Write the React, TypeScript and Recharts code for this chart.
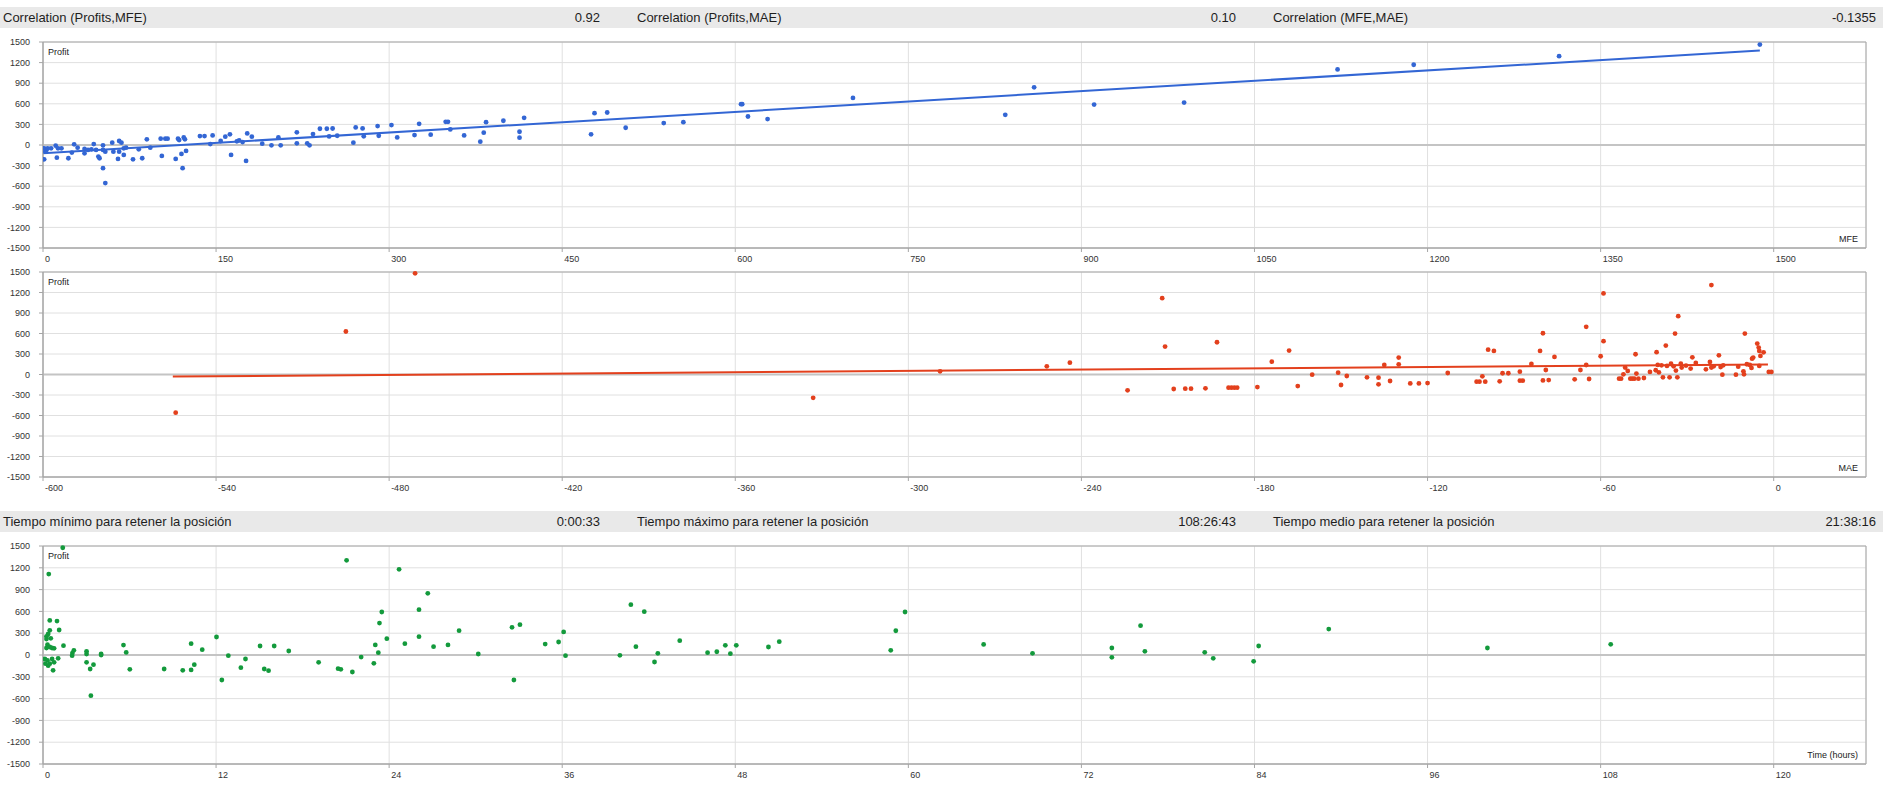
import React from "react";
import {
  ScatterChart,
  Scatter,
  XAxis,
  YAxis,
  CartesianGrid,
  ReferenceLine,
  ReferenceArea,
} from "recharts";

// header strips
const correlationLabels = [
  "Correlation (Profits,MFE)",
  "Correlation (Profits,MAE)",
  "Correlation (MFE,MAE)",
];
const correlationValues = ["0.92", "0.10", "-0.1355"];
const holdLabels = [
  "Tiempo mínimo para retener la posición",
  "Tiempo máximo para retener la posición",
  "Tiempo medio para retener la posición",
];
const holdValues = ["0:00:33", "108:26:43", "21:38:16"];

// axes
const profitTicks = [-1500, -1200, -900, -600, -300, 0, 300, 600, 900, 1200, 1500];
const mfeTicks = [0, 150, 300, 450, 600, 750, 900, 1050, 1200, 1350, 1500];
const maeTicks = [-600, -540, -480, -420, -360, -300, -240, -180, -120, -60, 0];
const timeTicks = [0, 12, 24, 36, 48, 60, 72, 84, 96, 108, 120];

// Profit vs MFE
const mfeValues = [
  1, 2, 3, 1, 4, 7, 11, 12, 13, 16, 22, 25, 27, 30, 36, 36, 39, 42, 44, 46,
  48, 49, 52, 52, 52, 54, 54, 60, 61, 65, 66, 66, 68, 70, 70, 72, 78, 83, 86, 90,
  93, 102, 103, 106, 108, 115, 117, 118, 120, 121, 122, 123, 124, 136, 140, 145, 147, 154, 158, 162,
  163, 168, 170, 173, 176, 177, 181, 190, 198, 204, 206, 220, 220, 229, 231, 234, 240, 246, 248, 251,
  255, 269, 271, 277, 278, 290, 291, 302, 307, 322, 326, 336, 349, 351, 353, 365, 379, 382, 384, 399,
  413, 413, 417, 475, 478, 489, 505, 538, 555, 605, 606, 611, 628, 702, 834, 859, 911, 989, 1122, 1188,
  1314, 1488,
];
const mfeProfits = [
  -48, -97, -72, -208, -48, -48, -10, -184, -48, -48, -193, -111, 10, -39, -58, -121, -72, -63, 14, -72,
  -169, -193, -5, -72, -338, -555, -97, 34, -97, -203, -97, 58, 34, -145, -48, -39, -208, -63, -193, 82,
  -39, 92, -159, 92, 92, -203, 92, 72, -130, -338, 111, 82, -87, 130, 130, 14, 140, 58, 121, 155,
  -145, 53, 68, 43, -232, 169, 121, 19, -5, 111, -5, 184, 24, 24, -5, 159, 237, 237, 125, 240,
  135, 34, 256, 241, 126, 275, 135, 290, 111, 145, 309, 150, 338, 338, 227, 140, 48, 179, 333, 353,
  193, 106, 396, 155, 464, 473, 251, 319, 333, 594, 594, 415, 377, 686, 440, 840, 589, 618, 1101, 1169,
  1294, 1463,
];
const mfeTrendX = [0, 1488];
const mfeTrendY = [-120, 1375];

// Profit vs MAE
const maeValues = [
  -554, -495, -471, -333, -289, -252, -244,
  -224, -212, -211, -208, -204, -202, -197, -193, -189, -188, -187, -186, -179, -174,
  -168, -165, -160, -151, -150, -148, -141, -137, -137, -135, -133, -130, -130, -126, -123, -120,
  -113, -103, -102, -101, -100, -99, -97, -95, -94, -92, -88, -88, -87, -84, -81, -80,
  -80, -79, -78, -76, -69, -67, -65, -65, -64, -60, -59, -59,
  -53.6, -52.9, -52.1, -51.5, -50.6, -49.7, -49, -48.3, -47.9, -47.6, -46.9, -45, -42.9, -40.9, -40.6, -40.2,
  -39.8, -38.9, -38.4, -37.4, -37, -36.1, -35.6, -34.7, -34.2, -33.9, -33.4, -33.1, -32.2, -31.9, -30.4, -28.8,
  -28.2, -27, -23.5, -22.1, -21.6, -21.6, -20.8, -19, -18.4, -17.8, -17.5, -13.1, -12.3, -10.5, -10.3, -10,
  -9.3, -8.3, -7.7, -7.5, -7.1, -5.7, -5.2, -5, -5, -4.6, -3.5, -1.7, -0.8,
];
const maeProfits = [
  -559, 629, 1480, -342, 47, 120, 173,
  -232, 1117, 408, -212, -208, -208, -203, 472, -193, -193, -193, -193, -184, 188,
  350, -169, -2, 27, -154, -22, -42, -144, -46, 139, -95, 247, 149, -130, -130, -125,
  22, -105, -105, -27, -105, 364, 345, -100, 18, 18, 42, -90, -90, 154, 345, 604,
  -86, 66, -81, 257, -71, 66, 697, 139, -66, 267, 487, 1186,
  -61, -61, 3, 101, 52, -61, -61, -61, 296, 13, -61, -51, 37, 62, 326, 140,
  32, 135, -42, 423, 125, -42, 159, 120, 599, 57, -42, 853, 159, 101, 130, 86,
  252, 169, 76, 184, 1308, 101, 120, 281, 110, -2, 135, -2, 115, 47, 3, 599,
  150, 140, 96, 232, 247, 452, 394, 345, 125, 272, 325, 37, 37,
];
const maeTrendX = [-555, -2];
const maeTrendY = [-30, 148];

// Profit vs holding time (hours)
const timeHours = [
  1.37, 0.4, 0.47, 0.97, 1.12, 0.47, 0.36, 0.24, 0.24, 0.54, 0.31, 0.47, 0.63, 0.77, 1.42, 0.24, 0.13, 0.31, 0.47, 0.63,
  0.77, 1.05, 0.7, 0.36, 0.17, 2.04, 2.14, 2.02, 3.02, 3.02, 3.02, 3.27, 3.5, 3.32, 4.03, 4.03, 5.58, 5.77, 6.02, 8.4,
  9.69, 10.27, 10.27, 10.49, 11.04, 12.03, 12.4, 12.85, 13.72, 14.04, 15.05, 15.34, 15.64, 16.03, 17.04, 19.11, 20.46, 20.65, 21.05, 21.45,
  22.06, 22.94, 23.04, 23.25, 23.33, 23.49, 23.84, 24.69, 25.09, 26.07, 26.07, 26.68, 27.08, 28.08, 28.85, 30.18, 32.52, 32.65, 33.07, 34.82,
  35.75, 36.1, 36.23, 40, 40.76, 41.11, 41.69, 42.4, 42.63, 44.15, 46.08, 46.72, 47.31, 47.66, 48.07, 50.3, 51.05, 58.78, 59.13, 59.77,
  65.22, 68.61, 74.11, 74.11, 76.1, 76.4, 80.55, 81.14, 83.94, 84.29, 89.15, 100.15, 108.7,
];
const timeProfits = [
  1476, 1114, 476, 467, 344, 339, 289, 257, 220, 229, 142, 110, 96, 92, 128, 96, -55, -73, -119, -55,
  -101, -46, -211, -147, -119, 27, 64, -9, 50, 14, -101, -193, -133, -560, 0, 14, 137, 36, -197, -193,
  -211, 156, -206, -133, 73, 248, -344, -9, -174, -55, 124, -193, -216, 124, 55, -101, -188, -197, 1303, -234,
  -28, -115, 138, 32, 440, 592, 225, 1179, 156, 624, 252, 849, 115, 138, 335, 14, 381, -344, 417, 151,
  179, 317, -9, -5, 692, 115, 596, -96, 23, 197, 32, 45, 133, 18, 133, 110, 183, 64, 334, 592,
  146, 23, 96, -32, 403, 50, 37, -46, -87, 124, 357, 96, 147,
];

const FONT = "'Liberation Sans', Arial, sans-serif";
const W = 1883;

function HeaderStrip({ top, labels, values }: { top: number; labels: string[]; values: string[] }) {
  const starts = [3, 637, 1273];
  const ends = [600, 1236, 1876];
  return (
    <div
      style={{
        position: "absolute",
        left: 0,
        top,
        width: W,
        height: 21,
        background: "#e9e9e9",
        fontFamily: FONT,
        fontSize: 13,
        color: "#1e1e1e",
      }}
    >
      {labels.map((l, i) => (
        <span key={l} style={{ position: "absolute", left: starts[i], top: 3, whiteSpace: "nowrap" }}>
          {l}
        </span>
      ))}
      {values.map((v, i) => (
        <span
          key={i}
          style={{ position: "absolute", right: W - ends[i], top: 3, whiteSpace: "nowrap" }}
        >
          {v}
        </span>
      ))}
    </div>
  );
}

const XTick = (props: any) => {
  const { x, y, payload } = props;
  return (
    <text x={x + 2} y={y + 8} textAnchor="start" fontSize={9} fill="#333" fontFamily={FONT}>
      {payload.value}
    </text>
  );
};

const YTick = (props: any) => {
  const { x, y, payload } = props;
  return (
    <text x={x} y={y + 3.2} textAnchor="end" fontSize={9} fill="#333" fontFamily={FONT}>
      {payload.value}
    </text>
  );
};

type PanelProps = {
  top: number;
  height: number;
  marginTop: number;
  xs: number[];
  ys: number[];
  color: string;
  xDomain: [number, number];
  xTicks: number[];
  xName: string;
  trendX?: number[];
  trendY?: number[];
};

function Panel({ top, height, marginTop, xs, ys, color, xDomain, xTicks, xName, trendX, trendY }: PanelProps) {
  const data = xs.map((x, i) => ({ x, y: ys[i] }));
  const plotBottom = top + height - 22;
  return (
    <>
      <div style={{ position: "absolute", left: 0, top }}>
        <ScatterChart width={W} height={height} margin={{ top: marginTop, right: 17, left: 0, bottom: 0 }}>
          <CartesianGrid
            horizontal={{ stroke: "#e3e3e3", strokeWidth: 2 }}
            vertical={{ stroke: "#d9d9d9", strokeWidth: 1 }}
            stroke="#e0e0e0"
          />
          <XAxis
            type="number"
            dataKey="x"
            domain={xDomain}
            ticks={xTicks}
            allowDataOverflow
            height={22}
            tickSize={4}
            tickMargin={2}
            tick={<XTick />}
            axisLine={{ stroke: "#a6a6a6" }}
            tickLine={{ stroke: "#a6a6a6" }}
            interval={0}
          />
          <YAxis
            type="number"
            dataKey="y"
            domain={[-1500, 1500]}
            ticks={profitTicks}
            width={43}
            tickSize={4}
            tickMargin={9}
            tick={<YTick />}
            axisLine={{ stroke: "#a6a6a6" }}
            tickLine={{ stroke: "#a6a6a6" }}
            interval={0}
          />
          <ReferenceLine y={0} stroke="#c4c4c4" strokeWidth={2} />
          <ReferenceArea
            x1={xDomain[0]}
            x2={xDomain[1]}
            y1={-1500}
            y2={1500}
            fill="none"
            stroke="#a6a6a6"
            strokeWidth={1}
          />
          {trendX && trendY ? (
            <ReferenceLine
              segment={[
                { x: trendX[0], y: trendY[0] },
                { x: trendX[1], y: trendY[1] },
              ]}
              stroke={color}
              strokeWidth={2}
            />
          ) : null}
          <Scatter
            data={data}
            isAnimationActive={false}
            shape={(p: any) => <circle cx={p.cx} cy={p.cy} r={2.4} fill={color} />}
          />
        </ScatterChart>
      </div>
      <span
        style={{
          position: "absolute",
          left: 48,
          top: top + marginTop + 5,
          fontFamily: FONT,
          fontSize: 9,
          lineHeight: "10px",
          color: "#222",
        }}
      >
        Profit
      </span>
      <span
        style={{
          position: "absolute",
          right: W - 1858,
          top: plotBottom - 14,
          fontFamily: FONT,
          fontSize: 9,
          lineHeight: "10px",
          color: "#222",
          whiteSpace: "nowrap",
        }}
      >
        {xName}
      </span>
    </>
  );
}

export default function App() {
  return (
    <div
      style={{
        position: "absolute",
        left: 0,
        top: 0,
        width: W,
        height: 786,
        background: "#fff",
        overflow: "hidden",
      }}
    >
      <HeaderStrip top={7} labels={correlationLabels} values={correlationValues} />
      <Panel
        top={30}
        height={240}
        marginTop={12}
        xs={mfeValues}
        ys={mfeProfits}
        color="#3366d4"
        xDomain={[0, 1580]}
        xTicks={mfeTicks}
        xName="MFE"
        trendX={mfeTrendX}
        trendY={mfeTrendY}
      />
      <Panel
        top={262}
        height={237}
        marginTop={10}
        xs={maeValues}
        ys={maeProfits}
        color="#e3401d"
        xDomain={[-600, 32]}
        xTicks={maeTicks}
        xName="MAE"
        trendX={maeTrendX}
        trendY={maeTrendY}
      />
      <HeaderStrip top={511} labels={holdLabels} values={holdValues} />
      <Panel
        top={536}
        height={250}
        marginTop={10}
        xs={timeHours}
        ys={timeProfits}
        color="#139a3c"
        xDomain={[0, 126.4]}
        xTicks={timeTicks}
        xName="Time (hours)"
      />
    </div>
  );
}
